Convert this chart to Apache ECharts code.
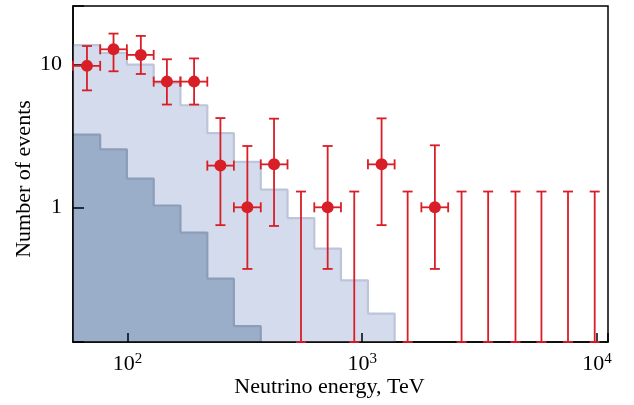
<!DOCTYPE html>
<html>
<head>
<meta charset="utf-8">
<script src="https://cdn.jsdelivr.net/npm/echarts@6/dist/echarts.min.js"></script>
<style>
html,body{margin:0;padding:0;background:#fff;}
#chart{width:634px;height:405px;}
</style>
</head>
<body>
<div id="chart"></div>
<script>
// ---- data ----
// energy bin edges, TeV (20 bins)
const binEdges = [58.6, 76.5, 99.4, 129.3, 168.1, 218.8, 283.9, 369.6, 480.5, 624.8, 811.7,
                  1057.5, 1374, 1786, 2323, 3017, 3930, 5107, 6607, 8584, 11140];
// bin centres, TeV
const binCenters = [67.2, 87.2, 114.0, 147.2, 192.2, 248.8, 324.1, 421.0, 548.4, 712.4,
                    924.7, 1209, 1561, 2039, 2649, 3438, 4496, 5799, 7525, 9777];
// observed events (null = upper limit only)
const observed = [9.8, 12.8, 11.7, 7.6, 7.6, 1.96, 1.0, 2.0, null, 1.0,
                  null, 2.0, null, 1.0, null, null, null, null, null, null];
// lower / upper ends of the vertical error bars
const errLow  = [6.6, 8.98, 8.6, 5.25, 5.25, 0.75, 0.37, 0.74, 0, 0.37,
                 0, 0.75, 0, 0.37, 0, 0, 0, 0, 0, 0];
const errHigh = [13.5, 16.5, 15.9, 10.9, 11.05, 4.22, 2.69, 4.18, 1.29, 2.69,
                 1.29, 4.2, 1.29, 2.72, 1.29, 1.29, 1.29, 1.29, 1.29, 1.29];
// expected total (light) and background (dark) histograms
const expectedTotal = [13.7, 12.1, 10.0, 7.45, 5.19, 3.31, 2.08, 1.33, 0.84, 0.514, 0.308, 0.18];
const expectedBackground = [3.23, 2.55, 1.59, 1.03, 0.665, 0.316, 0.147];
// axis ranges
const X_MIN = 58.6, X_MAX = 11140;
const Y_MIN = 0.1138, Y_MAX = 25.75;
const xTitle = 'Neutrino energy, TeV';
const yTitle = 'Number of events';

// ---- build ----
const FONT = '"Liberation Serif", "Times New Roman", serif';
const RED = '#d81e27';

function stepPoints(values) {
  const pts = [];
  values.forEach((v, i) => { pts.push([binEdges[i], v]); pts.push([binEdges[i + 1], v]); });
  pts.push([binEdges[values.length], Y_MIN]);
  return pts;
}

const errData = binCenters.map((c, i) => [
  c, observed[i] == null ? errHigh[i] : observed[i],
  binEdges[i], binEdges[i + 1], errLow[i], errHigh[i], observed[i] == null ? 0 : 1
]);
const pointData = [];
binCenters.forEach((c, i) => { if (observed[i] != null) pointData.push([c, observed[i]]); });

function isPow10(v) { const e = Math.log10(v); return Math.abs(e - Math.round(e)) < 1e-6; }

const chart = echarts.init(document.getElementById('chart'), null, {renderer: 'canvas'});
chart.setOption({
  animation: false,
  backgroundColor: '#fff',
  grid: {left: 73, right: 26, top: 6, bottom: 63, show: true, borderColor: '#000', borderWidth: 1.5, backgroundColor: 'transparent'},
  xAxis: {
    type: 'log', logBase: 10, min: X_MIN, max: X_MAX, z: 10,
    name: xTitle, nameLocation: 'middle', nameGap: 34, nameMoveOverlap: false,
    nameTextStyle: {fontFamily: FONT, fontSize: 22, color: '#000', padding: [0, 22, 0, 0]},
    axisLine: {show: true, lineStyle: {color: '#000', width: 1.5}},
    axisTick: {show: true, inside: true, length: 9, lineStyle: {color: '#000', width: 1.5}},
    minorTick: {show: false},
    splitLine: {show: false},
    axisLabel: {
      margin: 10, showMinLabel: false, showMaxLabel: true,
      formatter: v => isPow10(v) ? '{b|10}{s|' + Math.round(Math.log10(v)) + '}' : '',
      rich: {
        b: {fontFamily: FONT, fontSize: 22, color: '#000', lineHeight: 24},
        s: {fontFamily: FONT, fontSize: 15, color: '#000', verticalAlign: 'top', lineHeight: 14}
      }
    }
  },
  yAxis: {
    type: 'log', logBase: 10, min: Y_MIN, max: Y_MAX, z: 10,
    name: yTitle, nameLocation: 'middle', nameGap: 38, nameMoveOverlap: false,
    nameTextStyle: {fontFamily: FONT, fontSize: 22, color: '#000', padding: [0, 10, 0, 0]},
    axisLine: {show: true, lineStyle: {color: '#000', width: 1.5}},
    axisTick: {show: true, inside: true, length: 11, lineStyle: {color: '#000', width: 1.5}},
    minorTick: {show: false},
    splitLine: {show: false},
    axisLabel: {
      margin: 11, fontFamily: FONT, fontSize: 22, color: '#000',
      formatter: v => isPow10(v) ? String(Math.round(v)) : ''
    }
  },
  series: [
    {
      type: 'line', data: stepPoints(expectedTotal), symbol: 'none', z: 2,
      lineStyle: {color: '#bcc5da', width: 2.2},
      areaStyle: {color: '#d4dbec', opacity: 1, origin: 'start'}
    },
    {
      type: 'line', data: stepPoints(expectedBackground), symbol: 'none', z: 3,
      lineStyle: {color: '#8c9db8', width: 2.2},
      areaStyle: {color: '#9baec9', opacity: 1, origin: 'start'}
    },
    {
      type: 'custom', z: 20, data: errData,
      encode: {x: 0, y: 1},
      renderItem: function (params, api) {
        const cs = params.coordSys;
        const xc = api.value(0);
        const yLo = api.value(4), yHi = api.value(5);
        const hasPt = api.value(6) === 1;
        const pTop = api.coord([xc, yHi]);
        const bottomY = yLo > 0 ? api.coord([xc, yLo])[1] : cs.y + cs.height;
        const x = pTop[0];
        const cap = 5;
        const style = {stroke: RED, lineWidth: 1.8, fill: null};
        const children = [
          {type: 'line', shape: {x1: x, y1: pTop[1], x2: x, y2: bottomY}, style},
          {type: 'line', shape: {x1: x - cap, y1: pTop[1], x2: x + cap, y2: pTop[1]}, style},
          {type: 'line', shape: {x1: x - cap, y1: bottomY, x2: x + cap, y2: bottomY}, style}
        ];
        if (hasPt) {
          const pl = api.coord([api.value(2), api.value(1)]);
          const pr = api.coord([api.value(3), api.value(1)]);
          children.push({type: 'line', shape: {x1: pl[0], y1: pl[1], x2: pr[0], y2: pr[1]}, style});
          children.push({type: 'line', shape: {x1: pl[0], y1: pl[1] - cap, x2: pl[0], y2: pl[1] + cap}, style});
          children.push({type: 'line', shape: {x1: pr[0], y1: pr[1] - cap, x2: pr[0], y2: pr[1] + cap}, style});
        }
        return {type: 'group', children};
      }
    },
    {
      type: 'scatter', z: 21, data: pointData, symbol: 'circle', symbolSize: 12,
      itemStyle: {color: RED, opacity: 1}
    }
  ]
});
</script>
</body>
</html>
